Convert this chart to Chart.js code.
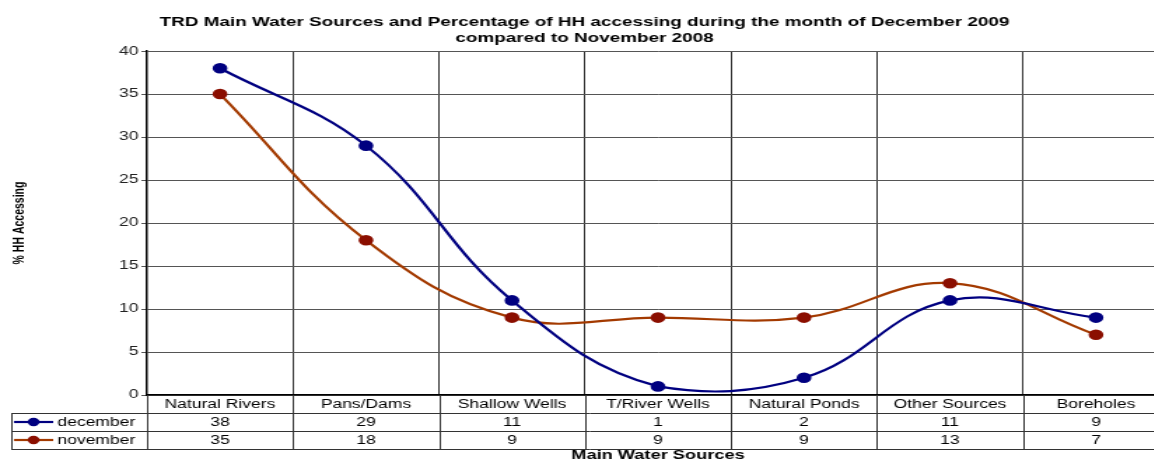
<!DOCTYPE html>
<html>
<head>
<meta charset="utf-8">
<script src="https://cdn.jsdelivr.net/npm/chart.js@4.4.1/dist/chart.umd.min.js"></script>
<style>
  html, body { margin: 0; padding: 0; background: #fff; overflow: hidden; width: 1154px; height: 462px; }
  #wrap { width: 852px; height: 462px; transform: scaleX(1.4); transform-origin: 0 0; }
</style>
</head>
<body>
<div id="wrap"><canvas id="waterchart" width="852" height="462"></canvas></div>
<script>
const sources = ['Natural Rivers', 'Pans/Dams', 'Shallow Wells', 'T/River Wells', 'Natural Ponds', 'Other Sources', 'Boreholes'];
const december = [38, 29, 11, 1, 2, 11, 9];
const november = [35, 18, 9, 9, 9, 13, 7];
const yTicks = [0, 5, 10, 15, 20, 25, 30, 35, 40];

const FONT = 'Arial, "Liberation Sans", sans-serif';
const series = [
  { label: 'december', data: december, line: '#000080', dot: '#000080' },
  { label: 'november', data: november, line: '#A33A00', dot: '#8B0F00' }
];

// data table under the plot, like the excel one
const dataTable = {
  id: 'dataTable',
  afterDraw(chart) {
    const ctx = chart.ctx;
    const xs = chart.scales.x;
    const top = chart.chartArea.bottom;
    const rowH = 18;
    const step = (xs.right - xs.left) / sources.length;
    const boxLeft = 8;
    ctx.save();
    ctx.strokeStyle = '#333';
    ctx.lineWidth = 1;
    ctx.beginPath();
    for (let i = 0; i <= sources.length; i++) {
      const x = Math.round(xs.left + i * step) + 0.5;
      ctx.moveTo(x, top);
      ctx.lineTo(x, top + rowH * 3);
    }
    [1, 2, 3].forEach(r => {
      const y = Math.round(top + r * rowH) + 0.5;
      ctx.moveTo(boxLeft, y);
      ctx.lineTo(xs.right, y);
    });
    ctx.moveTo(boxLeft + 0.5, top + rowH);
    ctx.lineTo(boxLeft + 0.5, top + rowH * 3);
    ctx.stroke();

    ctx.fillStyle = '#000';
    ctx.font = '12.5px ' + FONT;
    ctx.textAlign = 'center';
    ctx.textBaseline = 'middle';
    sources.forEach((s, i) => {
      const cx = xs.getPixelForValue(i);
      ctx.fillText(s, cx, top + rowH / 2 + 1);
      series.forEach((ser, k) => {
        ctx.fillText(String(ser.data[i]), cx, top + rowH * (k + 1) + rowH / 2 + 1);
      });
    });

    series.forEach((ser, k) => {
      const cy = top + rowH * (k + 1) + rowH / 2;
      ctx.strokeStyle = ser.line;
      ctx.lineWidth = 2.2;
      ctx.beginPath();
      ctx.moveTo(10, cy);
      ctx.lineTo(38, cy);
      ctx.stroke();
      ctx.fillStyle = ser.dot;
      ctx.beginPath();
      ctx.arc(24, cy, 4.2, 0, Math.PI * 2);
      ctx.fill();
      ctx.fillStyle = '#000';
      ctx.textAlign = 'left';
      ctx.fillText(ser.label, 41, cy + 1);
    });
    ctx.restore();
  }
};

new Chart(document.querySelector('#waterchart'), {
  type: 'line',
  data: {
    labels: sources,
    datasets: series.map(s => ({
      label: s.label,
      data: s.data,
      borderColor: s.line,
      backgroundColor: s.dot,
      pointBackgroundColor: s.dot,
      pointBorderColor: s.dot,
      pointRadius: 4.2,
      borderWidth: 2.2,
      tension: 0.4,
      fill: false
    }))
  },
  options: {
    responsive: false,
    animation: false,
    layout: { padding: { left: 0, right: 17, top: 0, bottom: 0 } },
    plugins: {
      legend: { display: false },
      tooltip: { enabled: false },
      title: {
        display: true,
        text: ['TRD Main Water Sources and Percentage of HH accessing during the month of December 2009',
               'compared to November 2008'],
        color: '#000',
        font: { family: FONT, size: 13.5, weight: 'bold', lineHeight: 1.15 },
        padding: { top: 15, bottom: 5 }
      }
    },
    scales: {
      x: {
        offset: true,
        grid: { offset: true, color: '#333', drawTicks: false },
        border: { color: '#000', width: 1.5 },
        ticks: { display: false },
        title: {
          display: true,
          text: 'Main Water Sources',
          color: '#000',
          font: { family: FONT, size: 13, weight: 'bold', lineHeight: 1 },
          padding: { top: 54, bottom: 0 }
        }
      },
      y: {
        min: 0,
        max: 40,
        afterFit: scale => { scale.width = 105; },
        afterBuildTicks: scale => { scale.ticks = yTicks.map(v => ({ value: v })); },
        grid: { color: '#555', tickLength: 4 },
        border: { color: '#000', width: 1.5 },
        ticks: { color: '#222', padding: 2, font: { family: FONT, size: 12.5 } },
        title: {
          display: true,
          text: '% HH Accessing',
          color: '#000',
          font: { family: FONT, size: 10.5, weight: 'bold' },
          padding: { top: 8, bottom: 0 }
        }
      }
    }
  },
  plugins: [dataTable]
});
</script>
</body>
</html>
